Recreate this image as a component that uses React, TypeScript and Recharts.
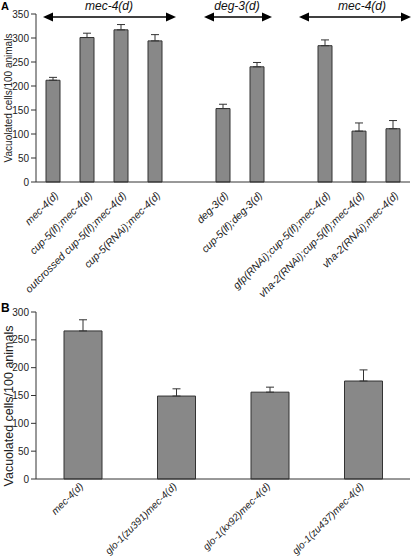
import { Bar, BarChart, ErrorBar, XAxis, YAxis } from 'recharts';

const labelsA = [
    'mec-4(d)',
    'cup-5(lf);mec-4(d)',
    'outcrossed cup-5(lf);mec-4(d)',
    'cup-5(RNAi);mec-4(d)',
    '',
    'deg-3(d)',
    'cup-5(lf);deg-3(d)',
    '',
    'gfp(RNAi);cup-5(lf);mec-4(d)',
    'vha-2(RNAi);cup-5(lf);mec-4(d)',
    'vha-2(RNAi);mec-4(d)',
];
const valuesA = [212, 301, 317, 294, null, 153, 240, null, 284, 106, 111];
const errorsA = [6, 9, 11, 13, null, 9, 9, null, 12, 17, 17];
const ticksA = [0, 50, 100, 150, 200, 250, 300, 350];

const labelsB = ['mec-4(d)', 'glo-1(zu391)mec-4(d)', 'glo-1(kx92)mec-4(d)', 'glo-1(zu437)mec-4(d)'];
const valuesB = [266, 149, 156, 176];
const errorsB = [20, 13, 9, 20];
const ticksB = [0, 50, 100, 150, 200, 250, 300];

const groupsA = [
    { name: 'mec-4(d)', from: 43, to: 176, labelX: 109 },
    { name: 'deg-3(d)', from: 204, to: 272, labelX: 237 },
    { name: 'mec-4(d)', from: 299, to: 411, labelX: 362 },
];

const yTitle = 'Vacuolated cells/100 animals';

const dataA = labelsA.map((name, i) => ({
    name,
    value: valuesA[i],
    err: errorsA[i] == null ? null : [0, errorsA[i]],
}));
const dataB = labelsB.map((name, i) => ({ name, value: valuesB[i], err: [0, errorsB[i]] }));

const font = '"Liberation Sans", Arial, sans-serif';
const axisColor = '#333';

// rotated category label, anchored at its end just under the bar
const RotatedTick = ({ x, y, payload, dx = 6, dy = 6, size = 10.5 }: any) => (
    <g transform={`translate(${x + dx},${y + dy})`}>
        <text x={0} y={0} textAnchor="end" transform="rotate(-45)" fontSize={size} fontStyle="italic" fill="#222" fontFamily={font}>
            {payload.value}
        </text>
    </g>
);

function Arrow({ from, to, y }: { from: number; to: number; y: number }) {
    const h = 10;
    return (
        <g>
            <line x1={from + h} y1={y} x2={to - h} y2={y} stroke="#000" strokeWidth={1.5} />
            <polygon points={`${from},${y} ${from + h},${y - 4.5} ${from + h},${y + 4.5}`} fill="#000" />
            <polygon points={`${to},${y} ${to - h},${y - 4.5} ${to - h},${y + 4.5}`} fill="#000" />
        </g>
    );
}

function YTitle({ cx, cy, size }: { cx: number; cy: number; size: number }) {
    return (
        <text
            x={cx}
            y={cy}
            transform={`rotate(-90, ${cx}, ${cy})`}
            textAnchor="middle"
            dominantBaseline="central"
            fontSize={size}
            fill="#222"
            fontFamily={font}
        >
            {yTitle}
        </text>
    );
}

export default function App() {
    return (
        <div style={{ position: 'absolute', left: 0, top: 0, width: 412, height: 559, background: '#fff', fontFamily: font, overflow: 'hidden' }}>
            <div style={{ position: 'absolute', left: 0, top: 0 }}>
                <BarChart width={412} height={300} data={dataA} margin={{ top: 14, right: 2, bottom: 0, left: 0 }}>
                    <XAxis dataKey="name" height={118} interval={0} tick={<RotatedTick dx={6} dy={6} />} tickLine={false} stroke={axisColor} />
                    <YAxis
                        width={36}
                        domain={[0, 350]}
                        ticks={ticksA}
                        tickSize={5}
                        tick={{ fontSize: 10, fill: '#222', fontFamily: font }}
                        stroke={axisColor}
                    />
                    <Bar dataKey="value" fill="#888" stroke="#333" strokeWidth={1} barSize={14} isAnimationActive={false}>
                        <ErrorBar dataKey="err" width={4} stroke="#333" strokeWidth={1} />
                    </Bar>
                </BarChart>
            </div>
            <div style={{ position: 'absolute', left: 0, top: 298 }}>
                <BarChart width={412} height={261} data={dataB} margin={{ top: 14, right: 2, bottom: 0, left: 0 }}>
                    <XAxis dataKey="name" height={80} interval={0} tick={<RotatedTick dx={1} dy={0} size={10} />} tickLine={false} stroke={axisColor} />
                    <YAxis
                        width={36}
                        domain={[0, 300]}
                        ticks={ticksB}
                        tickSize={5}
                        tick={{ fontSize: 10, fill: '#222', fontFamily: font }}
                        stroke={axisColor}
                    />
                    <Bar dataKey="value" fill="#888" stroke="#333" strokeWidth={1} barSize={38} isAnimationActive={false}>
                        <ErrorBar dataKey="err" width={4} stroke="#333" strokeWidth={1} />
                    </Bar>
                </BarChart>
            </div>
            <svg width={412} height={559} style={{ position: 'absolute', left: 0, top: 0, pointerEvents: 'none' }}>
                {groupsA.map((g, i) => (
                    <g key={i}>
                        <Arrow from={g.from} to={g.to} y={17} />
                        <text x={g.labelX} y={10} textAnchor="middle" fontSize={12} fontStyle="italic" fontFamily={font} fill="#111">
                            {g.name}
                        </text>
                    </g>
                ))}
                <text x={1} y={10} fontSize={11} fontWeight="bold" fontFamily={font}>A</text>
                <text x={1} y={312} fontSize={12} fontWeight="bold" fontFamily={font}>B</text>
                <YTitle cx={8} cy={98} size={10} />
                <YTitle cx={9} cy={406} size={12.5} />
            </svg>
        </div>
    );
}
